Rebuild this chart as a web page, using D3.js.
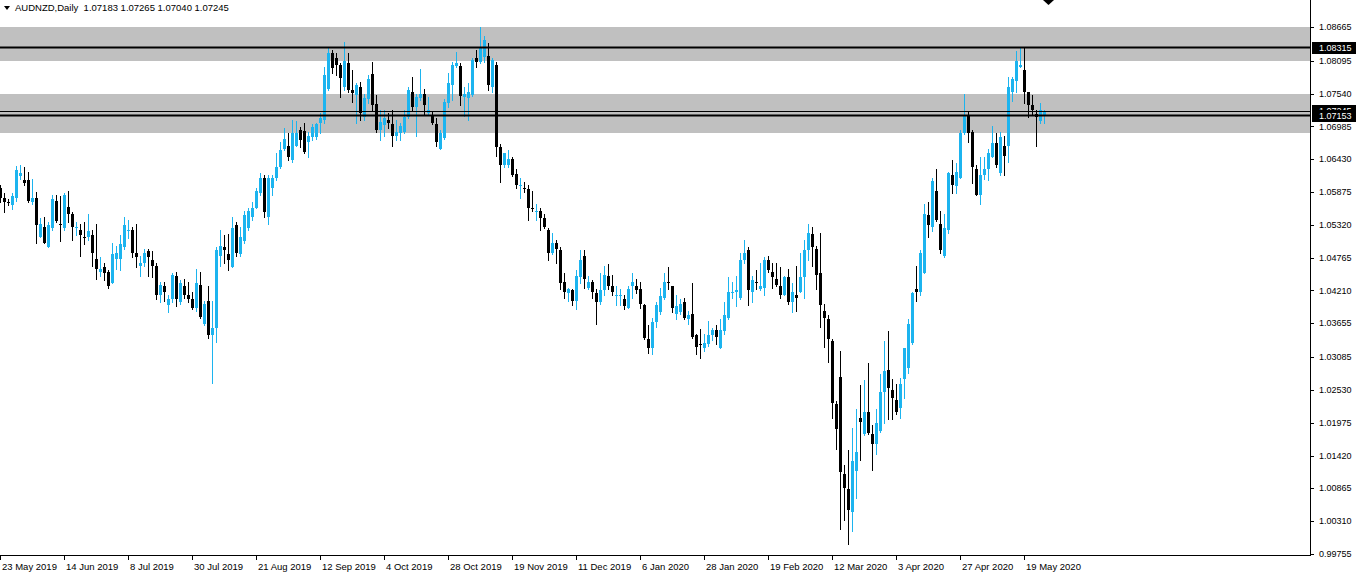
<!DOCTYPE html>
<html><head><meta charset="utf-8">
<script src="https://cdn.jsdelivr.net/npm/d3@7"></script>
<style>html,body{margin:0;padding:0;background:#fff;overflow:hidden}svg{display:block}</style>
</head><body>
<script>
const symbolTitle = "AUDNZD,Daily";
const lastOHLC = ["1.07183", "1.07265", "1.07040", "1.07245"];

const open = [1.0595,1.0578,1.0570,1.0565,1.0578,1.0614,1.0607,1.0607,1.0570,1.0577,1.0512,1.0529,1.0495,1.0526,1.0572,1.0534,1.0527,1.0563,1.0550,1.0527,1.0523,1.0512,1.0512,1.0514,1.0475,1.0453,1.0460,1.0453,1.0433,1.0475,1.0475,1.0494,1.0521,1.0523,1.0484,1.0463,1.0467,1.0487,1.0472,1.0463,1.0413,1.0429,1.0396,1.0406,1.0446,1.0401,1.0429,1.0413,1.0406,1.0392,1.0431,1.0365,1.0404,1.0346,1.0358,1.0479,1.0494,1.0482,1.0460,1.0531,1.0482,1.0504,1.0526,1.0545,1.0561,1.0585,1.0611,1.0545,1.0594,1.0612,1.0629,1.0660,1.0666,1.0641,1.0666,1.0692,1.0690,1.0672,1.0680,1.0680,1.0704,1.0709,1.0762,1.0823,1.0814,1.0802,1.0765,1.0806,1.0760,1.0751,1.0765,1.0714,1.0744,1.0787,1.0736,1.0692,1.0700,1.0709,1.0702,1.0683,1.0687,1.0689,1.0714,1.0756,1.0731,1.0746,1.0753,1.0721,1.0716,1.0702,1.0661,1.0678,1.0738,1.0768,1.0800,1.0800,1.0748,1.0746,1.0751,1.0814,1.0807,1.0816,1.0817,1.0765,1.0802,1.0663,1.0633,1.0633,1.0644,1.0618,1.0599,1.0595,1.0592,1.0561,1.0555,1.0556,1.0543,1.0523,1.0484,1.0501,1.0489,1.0435,1.0416,1.0421,1.0404,1.0443,1.0480,1.0426,1.0436,1.0416,1.0401,1.0421,1.0445,1.0429,1.0411,1.0411,1.0406,1.0392,1.0428,1.0429,1.0423,1.0397,1.0339,1.0324,1.0367,1.0384,1.0409,1.0436,1.0428,1.0382,1.0385,1.0401,1.0373,1.0382,1.0345,1.0331,1.0323,1.0331,1.0345,1.0355,1.0324,1.0353,1.0375,1.0418,1.0418,1.0409,1.0472,1.0490,1.0418,1.0436,1.0423,1.0426,1.0472,1.0453,1.0441,1.0428,1.0414,1.0443,1.0402,1.0414,1.0419,1.0443,1.0490,1.0516,1.0492,1.0450,1.0387,1.0373,1.0336,1.0229,1.0275,1.0110,1.0085,1.0047,1.0116,1.0206,1.0179,1.0216,1.0179,1.0162,1.0184,1.0250,1.0287,1.0252,1.0236,1.0223,1.0272,1.0290,1.0333,1.0424,1.0418,1.0451,1.0548,1.0528,1.0590,1.0534,1.0479,1.0523,1.0616,1.0597,1.0612,1.0687,1.0717,1.0689,1.0627,1.0583,1.0617,1.0627,1.0646,1.0670,1.0619,1.0666,1.0666,1.0756,1.0775,1.0799,1.0794,1.0756,1.0734,1.0719,1.0707,1.07183];
const high = [1.0599,1.0585,1.0575,1.0585,1.0631,1.0633,1.0629,1.0621,1.0609,1.0587,1.0543,1.0545,1.0536,1.0582,1.0582,1.0580,1.0585,1.0590,1.0553,1.0536,1.0534,1.0536,1.0551,1.0523,1.0533,1.0477,1.0467,1.0455,1.0501,1.0497,1.0514,1.0545,1.0540,1.0528,1.0534,1.0479,1.0492,1.0492,1.0487,1.0467,1.0435,1.0435,1.0413,1.0451,1.0453,1.0438,1.0441,1.0435,1.0418,1.0458,1.0453,1.0404,1.0429,1.0404,1.0494,1.0523,1.0514,1.0517,1.0545,1.0536,1.0528,1.0556,1.0561,1.0570,1.0595,1.0619,1.0616,1.0616,1.0616,1.0653,1.0672,1.0695,1.0687,1.0710,1.0707,1.0697,1.0704,1.0689,1.0702,1.0704,1.0721,1.0799,1.0831,1.0827,1.0823,1.0806,1.0841,1.0823,1.0794,1.0772,1.0773,1.0754,1.0785,1.0807,1.0751,1.0726,1.0726,1.0721,1.0727,1.0709,1.0704,1.0726,1.0765,1.0782,1.0754,1.0795,1.0761,1.0748,1.0723,1.0712,1.0692,1.0744,1.0789,1.0807,1.0824,1.0806,1.0765,1.0772,1.0814,1.0827,1.0866,1.0851,1.0839,1.0814,1.0807,1.0668,1.0654,1.0658,1.0646,1.0626,1.0612,1.0604,1.0599,1.0589,1.0568,1.0561,1.0551,1.0526,1.0519,1.0506,1.0494,1.0450,1.0426,1.0423,1.0455,1.0489,1.0489,1.0445,1.0438,1.0424,1.0451,1.0463,1.0465,1.0448,1.0429,1.0423,1.0413,1.0429,1.0450,1.0440,1.0436,1.0399,1.0362,1.0375,1.0402,1.0426,1.0450,1.0460,1.0429,1.0413,1.0407,1.0409,1.0387,1.0433,1.0348,1.0356,1.0348,1.0370,1.0358,1.0363,1.0373,1.0401,1.0443,1.0436,1.0446,1.0484,1.0506,1.0494,1.0446,1.0455,1.0467,1.0477,1.0479,1.0468,1.0467,1.0460,1.0445,1.0458,1.0433,1.0463,1.0484,1.0507,1.0533,1.0529,1.0497,1.0519,1.0399,1.0379,1.0339,1.0235,1.0318,1.0126,1.0152,1.0189,1.0221,1.0262,1.0269,1.0299,1.0194,1.0221,1.0279,1.0335,1.0352,1.0272,1.0263,1.0273,1.0324,1.0373,1.0418,1.0462,1.0489,1.0568,1.0570,1.0611,1.0626,1.0555,1.0551,1.0622,1.0641,1.0636,1.0692,1.0753,1.0724,1.0692,1.0634,1.0646,1.0646,1.0661,1.0699,1.0687,1.0689,1.0682,1.0782,1.0782,1.0826,1.0833,1.0831,1.0756,1.0751,1.0727,1.0738,1.07265];
const low = [1.0570,1.0553,1.0565,1.0558,1.0573,1.0609,1.0600,1.0570,1.0568,1.0501,1.0511,1.0501,1.0495,1.0524,1.0536,1.0504,1.0523,1.0536,1.0507,1.0514,1.0479,1.0499,1.0506,1.0463,1.0441,1.0446,1.0438,1.0426,1.0433,1.0458,1.0456,1.0492,1.0509,1.0477,1.0460,1.0446,1.0463,1.0446,1.0443,1.0406,1.0401,1.0404,1.0384,1.0401,1.0394,1.0399,1.0409,1.0401,1.0390,1.0387,1.0375,1.0363,1.0341,1.0264,1.0334,1.0462,1.0467,1.0455,1.0460,1.0479,1.0480,1.0502,1.0523,1.0541,1.0560,1.0582,1.0546,1.0533,1.0582,1.0607,1.0628,1.0658,1.0641,1.0639,1.0665,1.0663,1.0654,1.0646,1.0675,1.0677,1.0687,1.0705,1.0760,1.0789,1.0785,1.0748,1.0760,1.0757,1.0740,1.0704,1.0709,1.0709,1.0738,1.0726,1.0689,1.0675,1.0683,1.0695,1.0665,1.0675,1.0675,1.0687,1.0712,1.0727,1.0683,1.0743,1.0717,1.0717,1.0702,1.0665,1.0660,1.0677,1.0731,1.0743,1.0799,1.0734,1.0716,1.0709,1.0749,1.0799,1.0806,1.0807,1.0760,1.0756,1.0649,1.0604,1.0629,1.0629,1.0614,1.0595,1.0578,1.0587,1.0540,1.0556,1.0541,1.0524,1.0527,1.0473,1.0482,1.0467,1.0424,1.0408,1.0404,1.0397,1.0389,1.0433,1.0426,1.0423,1.0408,1.0365,1.0399,1.0413,1.0424,1.0413,1.0397,1.0397,1.0390,1.0392,1.0409,1.0416,1.0392,1.0339,1.0316,1.0314,1.0360,1.0382,1.0407,1.0424,1.0384,1.0372,1.0382,1.0373,1.0365,1.0341,1.0314,1.0307,1.0318,1.0328,1.0338,1.0331,1.0324,1.0348,1.0373,1.0409,1.0394,1.0407,1.0468,1.0396,1.0402,1.0424,1.0421,1.0414,1.0453,1.0426,1.0428,1.0409,1.0413,1.0399,1.0384,1.0387,1.0418,1.0409,1.0473,1.0463,1.0424,1.0360,1.0326,1.0300,1.0206,1.0153,1.0018,1.0033,0.9992,1.0014,1.0070,1.0135,1.0177,1.0179,1.0118,1.0145,1.0182,1.0197,1.0204,1.0204,1.0213,1.0206,1.0240,1.0282,1.0331,1.0404,1.0414,1.0450,1.0511,1.0521,1.0539,1.0484,1.0477,1.0518,1.0585,1.0585,1.0611,1.0685,1.0672,1.0602,1.0582,1.0568,1.0609,1.0607,1.0646,1.0629,1.0617,1.0616,1.0638,1.0741,1.0756,1.0799,1.0738,1.0714,1.0719,1.0666,1.0704,1.07040];
const close = [1.0578,1.0570,1.0569,1.0580,1.0624,1.0619,1.0602,1.0572,1.0577,1.0531,1.0534,1.0502,1.0531,1.0575,1.0538,1.0533,1.0582,1.0551,1.0529,1.0528,1.0514,1.0509,1.0521,1.0485,1.0458,1.0458,1.0451,1.0429,1.0482,1.0485,1.0499,1.0531,1.0524,1.0485,1.0477,1.0468,1.0485,1.0477,1.0463,1.0413,1.0431,1.0418,1.0406,1.0448,1.0406,1.0433,1.0414,1.0406,1.0392,1.0433,1.0377,1.0399,1.0346,1.0358,1.0489,1.0497,1.0490,1.0473,1.0526,1.0485,1.0511,1.0548,1.0556,1.0561,1.0590,1.0611,1.0553,1.0612,1.0612,1.0629,1.0658,1.0677,1.0646,1.0687,1.0687,1.0675,1.0656,1.0682,1.0697,1.0702,1.0712,1.0785,1.0823,1.0797,1.0802,1.0780,1.0809,1.0760,1.0755,1.0768,1.0721,1.0746,1.0778,1.0734,1.0692,1.0706,1.0712,1.0704,1.0683,1.0689,1.0699,1.0714,1.0760,1.0731,1.0748,1.0753,1.0734,1.0726,1.0704,1.0672,1.0687,1.0739,1.0772,1.0802,1.0806,1.0749,1.0753,1.0756,1.0811,1.0807,1.0833,1.0844,1.0768,1.0811,1.0663,1.0633,1.0653,1.0643,1.0616,1.0599,1.0600,1.0592,1.0561,1.0558,1.0556,1.0543,1.0528,1.0484,1.0502,1.0492,1.0433,1.0418,1.0423,1.0404,1.0445,1.0472,1.0441,1.0436,1.0419,1.0401,1.0421,1.0448,1.0428,1.0418,1.0413,1.0414,1.0394,1.0423,1.0435,1.0421,1.0399,1.0341,1.0324,1.0368,1.0397,1.0411,1.0436,1.0435,1.0392,1.0394,1.0399,1.0375,1.0379,1.0343,1.0326,1.0329,1.0333,1.0346,1.0355,1.0343,1.0355,1.0380,1.0419,1.0419,1.0421,1.0473,1.0484,1.0421,1.0438,1.0433,1.0428,1.0473,1.0456,1.0443,1.0431,1.0414,1.0443,1.0402,1.0418,1.0409,1.0443,1.0490,1.0519,1.0495,1.0448,1.0396,1.0375,1.0339,1.0231,1.0187,1.0114,1.0087,1.0050,1.0133,1.0148,1.0199,1.0216,1.0180,1.0162,1.0197,1.0250,1.0285,1.0257,1.0240,1.0216,1.0263,1.0323,1.0365,1.0416,1.0419,1.0484,1.0551,1.0531,1.0606,1.0541,1.0490,1.0526,1.0619,1.0600,1.0621,1.0688,1.0716,1.0687,1.0629,1.0583,1.0617,1.0627,1.0653,1.0670,1.0633,1.0680,1.0648,1.0765,1.0778,1.0809,1.0802,1.0756,1.0734,1.0726,1.0714,1.0726,1.07245];

const priceTicks = [1.08665,1.08095,1.07540,1.06985,1.06430,1.05875,1.05320,1.04765,1.04210,1.03655,1.03085,1.02530,1.01975,1.01420,1.00865,1.00310,0.99755];
const dateLabels = ["23 May 2019","14 Jun 2019","8 Jul 2019","30 Jul 2019","21 Aug 2019","12 Sep 2019","4 Oct 2019","28 Oct 2019","19 Nov 2019","11 Dec 2019","6 Jan 2020","28 Jan 2020","19 Feb 2020","12 Mar 2020","3 Apr 2020","27 Apr 2020","19 May 2020"];
const dateLabelBars = [0,16,32,48,64,80,96,112,128,144,160,176,192,208,224,240,256];
const zones = [[1.0809, 1.0866], [1.0687, 1.0753]];
const levelLines = [1.08315, 1.07153];
const bidPrice = 1.07245;

const W = 1358, H = 578;
const plotRight = 1310, axisY = 555;
const FONT = "'Liberation Sans', Arial, sans-serif";
const BULL = "#1cb4ef", BEAR = "#000000";

const svg = d3.select("body").append("svg").attr("width", W).attr("height", H)
  .style("font-family", FONT);

const x = d3.scaleLinear().domain([0, 256]).range([0, 1024]);
const y = d3.scaleLinear().domain([0.99755, 1.08665]).range([554, 27]);

const defs = svg.append("defs");
defs.append("clipPath").attr("id", "plot")
  .append("rect").attr("x", 0).attr("y", 0).attr("width", plotRight).attr("height", axisY);
// the bid label is partly hidden behind the level label, as in the reference
defs.append("clipPath").attr("id", "bidclip")
  .append("rect").attr("x", plotRight).attr("y", 0).attr("width", 60)
  .attr("height", Math.round(y(levelLines[1])) - 6);

const g = svg.append("g").attr("clip-path", "url(#plot)");

// zones
g.selectAll("rect.zone").data(zones).join("rect")
  .attr("class", "zone")
  .attr("x", 0).attr("width", plotRight)
  .attr("y", d => Math.round(y(d[1])))
  .attr("height", d => Math.round(y(d[0])) - Math.round(y(d[1])))
  .attr("fill", "#c0c0c0");

// candles
const idx = d3.range(open.length);
const px = i => Math.round(x(i));
g.selectAll("line.wick").data(idx).join("line")
  .attr("x1", i => px(i) + 0.5).attr("x2", i => px(i) + 0.5)
  .attr("y1", i => Math.round(y(high[i]))).attr("y2", i => Math.round(y(low[i])) + 1)
  .attr("stroke", i => close[i] >= open[i] ? BULL : BEAR).attr("stroke-width", 1);
g.selectAll("rect.body").data(idx).join("rect")
  .attr("x", i => px(i) - 1).attr("width", 3)
  .attr("y", i => Math.round(y(Math.max(open[i], close[i]))))
  .attr("height", i => Math.max(1, Math.round(y(Math.min(open[i], close[i]))) - Math.round(y(Math.max(open[i], close[i])))))
  .attr("fill", i => close[i] >= open[i] ? BULL : BEAR);

// level lines
g.selectAll("line.level").data(levelLines).join("line")
  .attr("x1", 0).attr("x2", plotRight)
  .attr("y1", d => Math.round(y(d)) - 0.5).attr("y2", d => Math.round(y(d)) - 0.5)
  .attr("stroke", "#000").attr("stroke-width", 2);
g.append("line")
  .attr("x1", 0).attr("x2", plotRight)
  .attr("y1", Math.round(y(bidPrice)) + 0.5).attr("y2", Math.round(y(bidPrice)) + 0.5)
  .attr("stroke", "#000").attr("stroke-width", 1);

// shift marker
svg.append("path").attr("d", "M1043,0 L1054,0 L1048.5,5 Z").attr("fill", "#000");

// axes lines
svg.append("line").attr("x1", plotRight + 0.5).attr("x2", plotRight + 0.5).attr("y1", 0).attr("y2", axisY + 1)
  .attr("stroke", "#000");
svg.append("line").attr("x1", 0).attr("x2", plotRight + 1).attr("y1", axisY + 0.5).attr("y2", axisY + 0.5)
  .attr("stroke", "#000");

// price ticks
const pt = svg.append("g");
pt.selectAll("line").data(priceTicks).join("line")
  .attr("x1", plotRight).attr("x2", plotRight + 4)
  .attr("y1", d => Math.round(y(d)) + 0.5).attr("y2", d => Math.round(y(d)) + 0.5)
  .attr("stroke", "#000");
pt.selectAll("text").data(priceTicks).join("text")
  .attr("x", plotRight + 9).attr("y", d => y(d)).attr("dy", "0.35em")
  .attr("font-size", 9).attr("fill", "#000")
  .text(d => d.toFixed(5));

// price label boxes
function priceBox(v, clip) {
  const yy = Math.round(y(v));
  const gg = svg.append("g");
  if (clip) gg.attr("clip-path", "url(#" + clip + ")");
  gg.append("rect").attr("x", plotRight + 2).attr("y", yy - 6).attr("width", 44).attr("height", 12).attr("fill", "#000");
  gg.append("text").attr("x", plotRight + 9).attr("y", yy).attr("dy", "0.35em")
    .attr("font-size", 9).attr("fill", "#fff").text(v.toFixed(5));
}
priceBox(bidPrice, "bidclip");
levelLines.forEach(v => priceBox(v));

// date ticks
const dt = svg.append("g");
dt.selectAll("line").data(dateLabelBars).join("line")
  .attr("x1", d => px(d) + 0.5).attr("x2", d => px(d) + 0.5)
  .attr("y1", axisY).attr("y2", axisY + 5).attr("stroke", "#000");
dt.selectAll("text").data(dateLabels).join("text")
  .attr("x", (d, i) => px(dateLabelBars[i]) + 2).attr("y", 570)
  .attr("font-size", 9.5).attr("fill", "#000").text(d => d);

// title
svg.append("path").attr("d", "M4,6 L10,6 L7,10 Z").attr("fill", "#000");
svg.append("text").attr("x", 15).attr("y", 11).attr("font-size", 9.5).attr("fill", "#000")
  .attr("xml:space", "preserve").style("white-space", "pre")
  .text(symbolTitle + "  " + lastOHLC.join(" "));
</script>
</body></html>
